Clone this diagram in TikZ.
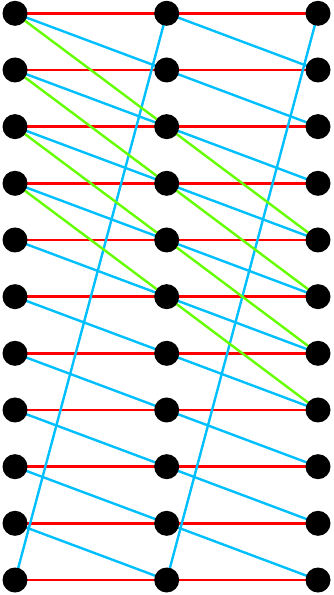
\documentclass[tikz,border=0pt]{standalone}
\begin{document}
\begin{tikzpicture}[x=1pt,y=-1pt,
  dot/.style={circle,fill=black,inner sep=0pt,minimum size=25pt},
  redline/.style={draw={rgb,255:red,255;green,0;blue,0},line width=2.4pt},
  blueline/.style={draw={rgb,255:red,0;green,191;blue,255},line width=2.4pt},
  greenline/.style={draw={rgb,255:red,102;green,255;blue,0},line width=2.4pt}]
\useasboundingbox (0,0) rectangle (333,595);
\foreach \i in {0,...,10}{
  \coordinate (a\i) at (15,13.3+56.67*\i);
  \coordinate (b\i) at (166.7,13.3+56.67*\i);
  \coordinate (c\i) at (318,13.3+56.67*\i);
}
\foreach \i in {0,...,10}{
  \draw[redline] (a\i) -- (b\i);
  \draw[redline] (b\i) -- (c\i);
}
\foreach \i [evaluate=\i as \j using int(\i+1)] in {0,...,9}{
  \draw[blueline] (a\i) -- (b\j);
  \draw[blueline] (b\i) -- (c\j);
}
\draw[blueline] (a10) -- (b0);
\draw[blueline] (b10) -- (c0);
\foreach \i [evaluate=\i as \j using int(\i+2)] in {0,...,3}{
  \draw[greenline] (a\i) -- (b\j);
}
\foreach \i [evaluate=\i as \j using int(\i+2)] in {2,...,5}{
  \draw[greenline] (b\i) -- (c\j);
}
\foreach \i in {0,...,10}{
  \node[dot] (na\i) at (a\i) {};
  \node[dot] (nb\i) at (b\i) {};
  \node[dot] (nc\i) at (c\i) {};
}
\end{tikzpicture}
\end{document}
